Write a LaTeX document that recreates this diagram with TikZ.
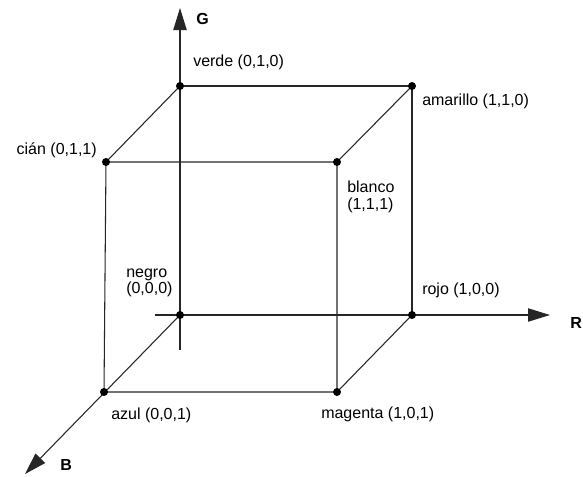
\documentclass[tikz,border=0pt]{standalone}
\usepackage{fontspec}
\setmainfont{Liberation Sans}
\usetikzlibrary{arrows.meta}
\tikzset{
  edge/.style={draw=black!85, line width=0.8pt},
  axis/.style={draw=black!85, line width=0.8pt, -{Triangle[length=16.5pt,width=10pt]}},
  vertex/.style={fill=black},
  lbl/.style={inner sep=0pt, font=\fontsize{12}{12.5}\selectfont, align=left},
  axlbl/.style={inner sep=0pt, font=\fontsize{12}{12.5}\selectfont\bfseries}
}
\begin{document}
\begin{tikzpicture}[x=0.75pt,y=0.75pt,yscale=-1,xscale=1]
\useasboundingbox (0,0) rectangle (583,476);

%Vertices
\coordinate (negro) at (180,315);
\coordinate (verde) at (180,86);
\coordinate (amarillo) at (412,86);
\coordinate (rojo) at (412,315);
\coordinate (cian) at (106,162);
\coordinate (blanco) at (337,162);
\coordinate (azul) at (104,392);
\coordinate (magenta) at (337,392);
%Axis ends
\coordinate (Gtail) at (180,350);
\coordinate (Gtip) at (180,8);
\coordinate (Rtail) at (155,315);
\coordinate (Rtip) at (550,315);
\coordinate (Btip) at (25,474);

%Axes
\draw [axis] (Gtail) -- (Gtip);
\draw [axis] (Rtail) -- (Rtip);
\draw [axis] (negro) -- (Btip);

%Straight Lines
\draw [edge] (verde) -- (amarillo) -- (rojo);
\draw [edge] (verde) -- (cian);
\draw [edge] (amarillo) -- (blanco);
\draw [edge] (rojo) -- (magenta);
\draw [edge] (cian) -- (blanco) -- (magenta) -- (azul) -- cycle;

%Shape: Circle
\foreach \v in {negro,verde,amarillo,rojo,cian,blanco,azul,magenta}
  \fill [vertex] (\v) circle (3pt);

% Text Node
\node [lbl, anchor=west] (tverde) at (193,62.5) {verde (0,1,0)};
% Text Node
\node [lbl, anchor=west] (tamarillo) at (422,101) {amarillo (1,1,0)};
% Text Node
\node [lbl, anchor=east] (tcian) at (97,150) {cián (0,1,1)};
% Text Node
\node [lbl, anchor=west] (tblanco) at (347,197) {blanco\\(1,1,1)};
% Text Node
\node [lbl, anchor=west] (tnegro) at (126,283) {negro\\(0,0,0)};
% Text Node
\node [lbl, anchor=west] (trojo) at (422,290) {rojo (1,0,0)};
% Text Node
\node [lbl, anchor=west] (tazul) at (111,415) {azul (0,0,1)};
% Text Node
\node [lbl, anchor=west] (tmagenta) at (321,414) {magenta (1,0,1)};
% Text Node
\node [axlbl, anchor=west] (tG) at (196,19) {G};
% Text Node
\node [axlbl, anchor=west] (tR) at (570,323) {R};
% Text Node
\node [axlbl, anchor=west] (tB) at (60,465) {B};
\end{tikzpicture}
\end{document}
